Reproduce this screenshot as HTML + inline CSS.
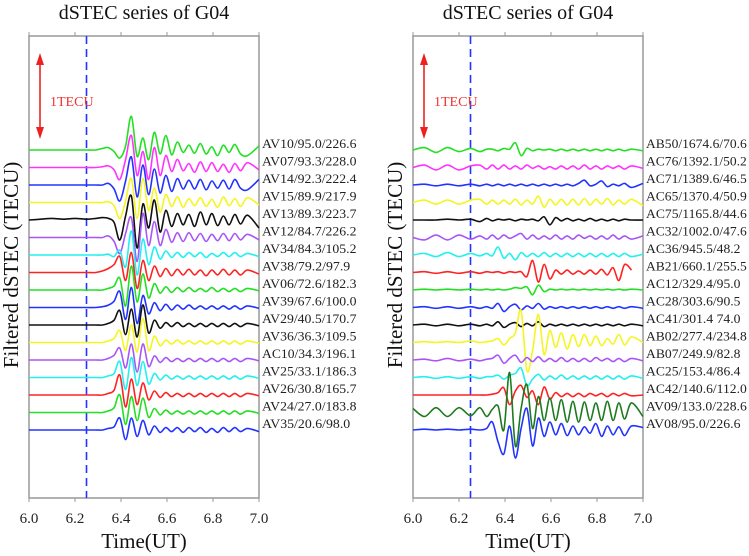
<!DOCTYPE html>
<html><head><meta charset="utf-8"><style>
html,body{margin:0;padding:0;background:#fff;}
svg{display:block;font-family:"Liberation Serif",serif;}
</style></head><body>
<svg id="chart" width="749" height="556" viewBox="0 0 749 556" xmlns="http://www.w3.org/2000/svg"></svg>
<script>
const times=[6.00,6.05,6.10,6.15,6.20,6.25,6.29,6.32,6.345,6.37,6.395,6.42,6.445,6.47,6.495,6.52,6.545,6.57,6.595,6.62,6.645,6.67,6.695,6.72,6.745,6.77,6.795,6.82,6.845,6.87,6.895,6.92,6.95,7.00];
const xTicks=[6.0,6.2,6.4,6.6,6.8,7.0];
const xTickLabels=["6.0","6.2","6.4","6.6","6.8","7.0"];
const eventTime=6.25;
const leftLabels=["AV10/95.0/226.6","AV07/93.3/228.0","AV14/92.3/222.4","AV15/89.9/217.9","AV13/89.3/223.7","AV12/84.7/226.2","AV34/84.3/105.2","AV38/79.2/97.9","AV06/72.6/182.3","AV39/67.6/100.0","AV29/40.5/170.7","AV36/36.3/109.5","AC10/34.3/196.1","AV25/33.1/186.3","AV26/30.8/165.7","AV24/27.0/183.8","AV35/20.6/98.0"];
const rightLabels=["AB50/1674.6/70.6","AC76/1392.1/50.2","AC71/1389.6/46.5","AC65/1370.4/50.9","AC75/1165.8/44.6","AC32/1002.0/47.6","AC36/945.5/48.2","AB21/660.1/255.5","AC12/329.4/95.0","AC28/303.6/90.5","AC41/301.4 74.0","AB02/277.4/234.8","AB07/249.9/82.8","AC25/153.4/86.4","AC42/140.6/112.0","AV09/133.0/228.6","AV08/95.0/226.6"];
const leftColors=["#22e022","#ff33ff","#2233ff","#f5f522","#111111","#a855f7","#22f0f0","#ff2222","#22e022","#2233ff","#111111","#f5f522","#a855f7","#22f0f0","#ff2222","#22e022","#2233ff"];
const rightColors=["#22e022","#ff33ff","#2233ff","#f5f522","#111111","#a855f7","#22f0f0","#ff2222","#22e022","#2233ff","#111111","#f5f522","#a855f7","#22f0f0","#ff2222","#1e7a1e","#2233ff"];
const leftSeries=[
[0,0,0,0,0,0,0,0.02,0.03,-0.02,-0.1,0.05,0.42,-0.08,0.15,-0.12,0.22,-0.05,0.18,-0.06,0.1,-0.03,0.06,-0.04,0.08,-0.05,0.04,-0.07,0.06,-0.03,0.07,-0.05,-0.07,0.05],
[0,0,0,0,0,0,0,0.01,0.02,-0.03,-0.15,0.1,0.4,-0.1,0.2,-0.15,0.25,-0.1,0.15,-0.05,0.1,-0.04,0.05,-0.06,0.07,-0.05,0.06,-0.05,0.04,-0.06,0.05,-0.04,0.06,-0.03],
[0,0,0,0,0,0,0,0,0.02,-0.05,-0.2,0.05,0.35,-0.15,0.25,-0.12,0.2,-0.1,0.12,-0.08,0.08,-0.05,0.06,-0.05,0.07,-0.06,0.05,-0.04,0.06,-0.05,0.07,-0.04,-0.06,0.07],
[0,0,0,0,0,0,0,0,0.01,-0.04,-0.2,0.02,0.3,-0.2,0.3,-0.1,0.18,-0.12,0.1,-0.05,0.07,-0.06,0.05,-0.04,0.06,-0.05,0.04,-0.06,0.07,-0.04,0.05,-0.05,0.06,-0.03],
[0,0.01,0.02,0.01,0.02,0.01,0.02,0.03,0.02,-0.03,-0.25,0.05,0.3,-0.35,0.2,-0.1,0.25,-0.15,0.12,-0.08,0.08,-0.06,0.07,-0.08,0.1,-0.06,0.08,-0.07,0.05,-0.06,0.07,-0.05,0.06,-0.1],
[0,0,0,0,0,0,0,0,0.02,-0.05,-0.2,0.05,0.25,-0.3,0.3,-0.1,0.2,-0.1,0.1,-0.06,0.06,-0.05,0.06,-0.04,0.05,-0.05,0.04,-0.04,0.05,-0.04,0.05,-0.03,0.04,-0.03],
[0,0,0,0,0,0,0,0,0.01,-0.02,0.06,-0.15,0.3,-0.25,0.2,-0.12,0.1,-0.05,0.05,-0.03,0.03,-0.03,0.03,-0.02,0.03,-0.03,0.02,-0.02,0.03,-0.02,0.03,-0.02,0.02,-0.02],
[0,0,0,0,0,0,0,0.02,0.05,0.1,0.2,-0.1,0.25,-0.2,0.15,-0.1,0.08,-0.05,0.05,-0.04,0.04,-0.03,0.04,-0.03,0.03,-0.04,0.03,-0.03,0.04,-0.03,0.03,-0.03,0.03,-0.02],
[0,0,0,0,0,0,0,0,0.02,0.05,0.15,-0.2,0.3,-0.15,0.2,-0.1,0.08,-0.04,0.04,-0.03,0.03,-0.02,0.03,-0.02,0.02,-0.02,0.03,-0.02,0.02,-0.02,0.02,-0.02,0.02,-0.01],
[0,0,0,0,0,0,0,0.01,0.03,0.08,0.2,-0.15,0.25,-0.2,0.15,-0.08,0.06,-0.04,0.04,-0.03,0.03,-0.02,0.03,-0.02,0.02,-0.02,0.02,-0.02,0.02,-0.02,0.02,-0.02,0.02,-0.01],
[0,0,0,0,0,0,0,0,0.02,0.06,0.18,-0.12,0.2,-0.15,0.25,-0.1,0.06,-0.04,0.03,-0.02,0.03,-0.02,0.02,-0.02,0.02,-0.02,0.02,-0.02,0.02,-0.02,0.02,-0.02,0.02,-0.01],
[0,0,0,0,0,0,0,0,0.02,0.05,0.15,-0.1,0.22,-0.12,0.3,-0.1,0.08,-0.04,0.03,-0.02,0.03,-0.02,0.02,-0.02,0.02,-0.02,0.02,-0.02,0.02,-0.02,0.02,-0.02,0.02,-0.01],
[0,0,0,0,0,0,0,0,0.02,0.06,0.15,-0.1,0.2,-0.15,0.2,-0.08,0.05,-0.03,0.03,-0.02,0.02,-0.02,0.02,-0.02,0.02,-0.02,0.02,-0.02,0.02,-0.02,0.02,-0.02,0.02,-0.01],
[0,0,0,0,0,0,0,0,0.02,0.05,0.2,-0.15,0.25,-0.1,0.2,-0.08,0.05,-0.03,0.03,-0.02,0.02,-0.02,0.02,-0.02,0.02,-0.02,0.02,-0.02,0.02,-0.02,0.02,-0.02,0.02,-0.01],
[0,0,0,0,0,0,0,0,0.02,0.06,0.25,-0.15,0.2,-0.12,0.15,-0.06,0.05,-0.03,0.03,-0.02,0.02,-0.02,0.02,-0.02,0.02,-0.02,0.02,-0.02,0.02,-0.02,0.02,-0.02,0.02,-0.01],
[0,0,0,0,0,0,0,0,0.02,0.06,0.22,-0.15,0.2,-0.1,0.18,-0.06,0.05,-0.03,0.03,-0.02,0.02,-0.02,0.02,-0.02,0.02,-0.02,0.02,-0.02,0.02,-0.02,0.02,-0.02,0.02,-0.01],
[0,0,0,0,0,0,0,0,0.02,0.04,0.15,-0.12,0.15,-0.08,0.12,-0.06,0.05,-0.03,0.03,-0.02,0.03,-0.03,0.03,-0.02,0.03,-0.03,0.02,-0.03,0.03,-0.02,0.03,-0.02,0.02,-0.02]
];
const rightSeries=[
[0,0.03,-0.03,0.03,-0.02,0.02,-0.02,0.01,0.01,-0.01,0.02,0.01,0.09,-0.07,0.02,-0.01,0.01,0,0.01,-0.01,0.01,-0.01,0.01,-0.01,0.01,-0.01,0.01,-0.01,0.01,-0.01,0.01,-0.01,0.01,-0.01],
[0,0.03,-0.03,0.03,-0.03,0.02,0.03,-0.02,0.03,-0.02,0.03,-0.02,0.02,-0.02,0.03,-0.01,0.02,-0.02,0.01,-0.02,0.02,-0.02,0.02,-0.02,0.03,-0.02,0.02,-0.02,0.02,-0.01,0.02,-0.02,0.02,-0.01],
[0,0.01,-0.01,0.01,-0.01,0.01,-0.01,0.01,-0.01,0.01,-0.01,0.01,-0.01,0.01,-0.01,0.01,-0.01,0.01,-0.01,0.01,-0.01,0.01,-0.01,0.02,0.06,-0.01,0.01,0.05,-0.02,0.01,-0.01,0.02,-0.03,0.02],
[0,0.03,-0.02,0.03,-0.02,0.03,0.04,-0.02,0.03,-0.02,0.03,-0.02,0.04,-0.03,0.03,-0.02,0.08,-0.06,0.04,-0.03,0.04,-0.03,0.04,-0.03,0.05,-0.03,0.04,-0.02,0.05,-0.03,0.03,-0.02,0.04,-0.04],
[0,0,0,0.01,0,0.01,-0.02,0.02,-0.01,0.01,0,0.01,-0.01,0.01,0,0.01,-0.01,0.04,-0.06,0.03,-0.01,0.02,-0.01,0.01,-0.01,0.02,-0.01,0.01,-0.01,0.01,-0.01,0.01,0,0],
[0,-0.03,0.03,-0.03,0.03,-0.02,0.02,-0.02,0.03,-0.02,0.03,-0.01,0.02,0.05,-0.02,0.03,-0.02,0.02,-0.02,0.03,-0.02,0.02,-0.02,0.03,-0.01,0.02,-0.02,0.02,-0.02,0.03,-0.02,0.02,-0.02,0.02],
[0,0.02,-0.02,0.03,-0.02,0.02,-0.01,0.02,-0.01,0.1,-0.04,0.02,-0.06,0.03,-0.02,0.02,-0.02,0.03,-0.02,0.02,-0.02,0.02,-0.02,0.02,-0.02,0.02,-0.02,0.02,-0.02,0.02,-0.02,0.02,-0.02,0.01],
[0,0.01,-0.01,0.01,-0.01,0.01,-0.01,0.01,0,0.01,-0.01,0.01,0,0.01,-0.05,0.15,-0.12,0.1,-0.08,0.03,-0.02,0.03,-0.02,0.02,-0.02,0.03,-0.02,0.04,-0.03,0.06,-0.1,0.1,0.03,0.03],
[0,0.01,0,0.01,0,0.01,0,0.01,0,0.01,0,0.01,0.03,0.02,0.04,-0.06,0.06,-0.02,0.01,0,0.01,0,0.01,0,0.01,0,0.01,0,0.01,0,0.01,0,0.01,0],
[0,0.01,-0.01,0.01,-0.01,0.01,-0.01,0.01,-0.01,0.05,-0.05,0.01,0.04,-0.03,0.02,-0.01,0.05,-0.02,0.01,-0.01,0.01,-0.01,0.01,-0.01,0.01,-0.01,0.01,-0.01,0.01,-0.01,0.01,-0.01,0.01,-0.01],
[0,0.01,-0.01,0.01,-0.01,0.01,-0.01,0.01,-0.01,0.04,-0.03,0.01,0.03,-0.02,0.02,-0.01,0.04,-0.02,0.01,-0.01,0.01,-0.01,0.01,-0.01,0.01,-0.01,0.01,-0.01,0.01,-0.01,0.01,-0.01,0.01,-0.01],
[0,0.01,0,0.01,0,0.02,0,0.01,0.02,0.05,-0.03,0.05,0.12,0.4,-0.35,-0.1,0.35,-0.15,0.15,-0.06,0.12,-0.08,0.1,-0.05,0.1,-0.04,0.08,-0.04,0.05,-0.02,0.1,-0.03,0.07,0],
[0,0.01,-0.01,0.02,-0.01,0.01,-0.01,0.01,0.02,0.06,-0.04,0.02,0.06,-0.03,0.03,-0.02,0.04,-0.02,0.02,-0.02,0.03,-0.02,0.02,-0.02,0.02,-0.02,0.03,-0.01,0.02,-0.02,0.02,-0.02,0.02,-0.01],
[0,0.01,-0.01,0.01,-0.01,0.01,-0.01,0.01,0.01,0.03,-0.02,0.03,0.05,0.12,-0.1,-0.02,0.04,-0.03,0.02,-0.02,0.03,-0.02,0.02,-0.02,0.02,-0.02,0.02,-0.02,0.02,-0.02,0.02,-0.02,0.02,-0.01],
[0,0,0,0,0,0,0,0,0.01,0.03,0.09,-0.12,0.05,0.12,-0.03,0.05,-0.12,0.1,-0.05,0.03,-0.02,0.02,-0.02,0.02,-0.02,0.02,-0.01,0.02,-0.02,0.02,-0.01,0.02,-0.01,0],
[0.05,-0.05,0.06,-0.05,0.06,-0.04,0.06,-0.05,0.04,0.08,-0.22,0.5,-0.42,0.05,0.35,-0.2,0.2,-0.1,0.18,-0.1,0.16,-0.12,0.14,-0.12,0.13,-0.1,0.12,-0.1,0.14,-0.1,0.12,-0.08,0.12,-0.05],
[0,0.01,0,0.01,0,0.01,0,0.02,0.1,-0.15,-0.3,0.05,-0.35,0.02,0.27,-0.2,0.15,-0.08,0.1,-0.06,0.08,-0.07,0.05,-0.06,0.04,-0.04,0.08,-0.08,0.05,-0.06,0.04,-0.07,0.05,0.03]
];
const NS="http://www.w3.org/2000/svg";
const svg=document.getElementById('chart');
function el(tag,attrs,parent){const e=document.createElementNS(NS,tag);for(const k in attrs)e.setAttribute(k,attrs[k]);(parent||svg).appendChild(e);return e;}
const TOP=36,BOT=498,BASE0=150,STEP=17.5,PX_PER_TECU=80;
function smoothPath(pts){let d="M"+pts[0][0].toFixed(1)+","+pts[0][1].toFixed(1);for(let i=0;i<pts.length-1;i++){const p0=pts[Math.max(0,i-1)],p1=pts[i],p2=pts[i+1],p3=pts[Math.min(pts.length-1,i+2)];const c1=[p1[0]+(p2[0]-p0[0])/6,p1[1]+(p2[1]-p0[1])/6];const c2=[p2[0]-(p3[0]-p1[0])/6,p2[1]-(p3[1]-p1[1])/6];d+=" C"+c1[0].toFixed(1)+","+c1[1].toFixed(1)+" "+c2[0].toFixed(1)+","+c2[1].toFixed(1)+" "+p2[0].toFixed(1)+","+p2[1].toFixed(1);}return d;}
function panel(x0,x1,labels,colors,series,name,endTimes){
  const g=el('g',{});
  
  
  const xs=t=>x0+(t-6)/(1)*(x1-x0);
  const title=el('text',{x:(x0+x1)/2,y:19,'font-size':20,'text-anchor':'middle',fill:'#111'},g);
  title.textContent="dSTEC series of G04";
  
  
  const frame=el('rect',{x:x0,y:TOP,width:x1-x0,height:BOT-TOP,fill:'none',stroke:'#999','stroke-width':1.5},g);
  
  
  xTicks.forEach((t,i)=>{
    el('line',{x1:xs(t),x2:xs(t),y1:TOP-4,y2:TOP,stroke:'#999','stroke-width':1},g);
    el('line',{x1:xs(t),x2:xs(t),y1:BOT,y2:BOT+4,stroke:'#999','stroke-width':1},g);
    const tl=el('text',{x:xs(t),y:523,'font-size':15,'text-anchor':'middle',fill:'#222'},g);
    tl.textContent=xTickLabels[i];
    
    
  });
  const xt=el('text',{x:(x0+x1)/2,y:548,'font-size':21,'text-anchor':'middle',fill:'#111'},g);
  xt.textContent="Time(UT)";
  
  
  const yt=el('text',{x:0,y:0,'font-size':21,'text-anchor':'middle',fill:'#111',transform:`translate(${x0-11},265) rotate(-90)`},g);
  yt.textContent="Filtered dSTEC (TECU)";
  
  
  const ev=el('line',{x1:xs(eventTime),x2:xs(eventTime),y1:TOP,y2:BOT,stroke:'#2233ff','stroke-width':1.6,'stroke-dasharray':'8,5'},g);
  
  
  const ax=x0+11;
  const sc=el('g',{},g);
  
  
  el('line',{x1:ax,x2:ax,y1:62,y2:132,stroke:'#ee2222','stroke-width':1.6},sc);
  el('polygon',{points:`${ax},53 ${ax-4},65 ${ax+4},65`,fill:'#ee2222'},sc);
  el('polygon',{points:`${ax},139 ${ax-4},127 ${ax+4},127`,fill:'#ee2222'},sc);
  const st=el('text',{x:ax+10,y:106,'font-size':14,fill:'#ee3333'},sc);
  st.textContent="1TECU";
  series.forEach((vals,i)=>{
    const base=BASE0+i*STEP;
    const pts=[];
    times.forEach((t,j)=>{if(t<=endTimes[i]+1e-9)pts.push([xs(t),base-vals[j]*PX_PER_TECU]);});
    const p=el('path',{d:smoothPath(pts),fill:'none',stroke:colors[i],'stroke-width':1.6},g);
    
    
    const lb=el('text',{x:x1+3,y:base-2,'font-size':13,fill:'#222','textLength':labels[i].length*6.3,'lengthAdjust':'spacingAndGlyphs'},g);
    lb.textContent=labels[i];
    
    
  });
}
const leftEnd=leftSeries.map(()=>7.0);
const rightEnd=rightSeries.map((s,i)=>i===7?6.95:7.0);
panel(29,259,leftLabels,leftColors,leftSeries,'left-panel',leftEnd);
panel(413,643,rightLabels,rightColors,rightSeries,'right-panel',rightEnd);
</script>
</body></html>
